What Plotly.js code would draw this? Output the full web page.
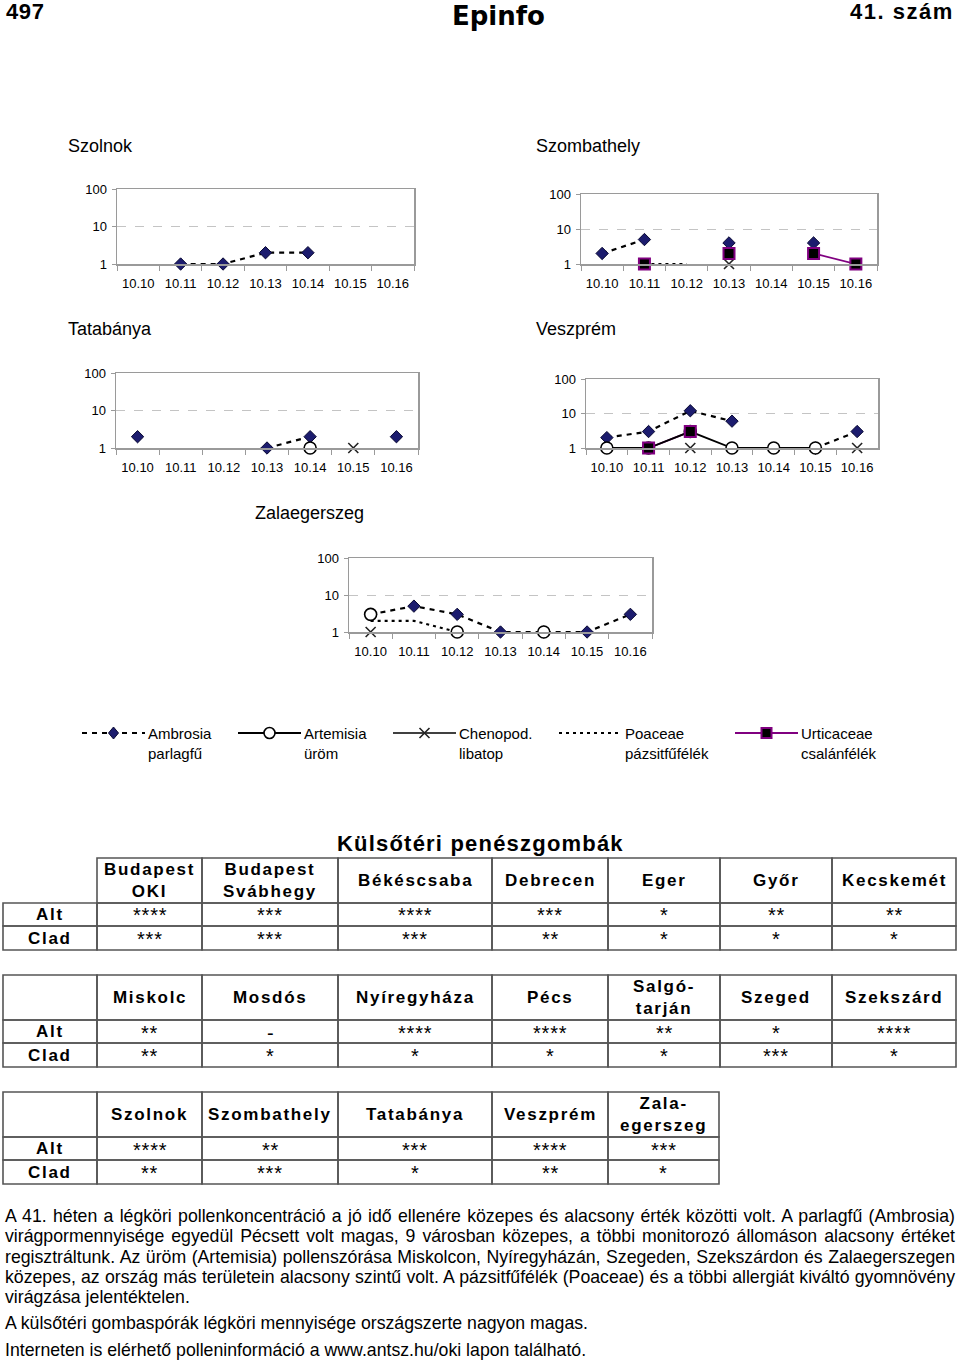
<!DOCTYPE html>
<html>
<head>
<meta charset="utf-8">
<script src="https://cdn.plot.ly/plotly-3.0.1.min.js"></script>
<style>
html,body{margin:0;padding:0;background:#fff;}
#wrap{position:relative;width:960px;height:1361px;overflow:hidden;}
#chart{position:absolute;left:0;top:0;width:960px;height:1361px;}
#text{position:absolute;left:5px;top:1206px;width:950px;font-family:"Liberation Sans",Arial,sans-serif;font-size:17.7px;line-height:20.3px;color:#000;}
#text p{margin:0 0 6px 0;text-align:justify;}
</style>
</head>
<body>
<div id="wrap">
<div id="chart"></div>
<div id="text">
<p>A 41. héten a légköri pollenkoncentráció a jó idő ellenére közepes és alacsony érték közötti volt. A parlagfű (Ambrosia) virágpormennyisége egyedül Pécsett volt magas, 9 városban közepes, a többi monitorozó állomáson alacsony értéket regisztráltunk. Az üröm (Artemisia) pollenszórása Miskolcon, Nyíregyházán, Szegeden, Szekszárdon és Zalaegerszegen közepes, az ország más területein alacsony szintű volt. A pázsitfűfélék (Poaceae) és a többi allergiát kiváltó gyomnövény virágzása jelentéktelen.</p>
<p>A külsőtéri gombaspórák légköri mennyisége országszerte nagyon magas.</p>
<p>Interneten is elérhető polleninformáció a www.antsz.hu/oki lapon található.</p>
</div>
</div>
<script>
// ---------- DATA ----------
const dates = ['10.10','10.11','10.12','10.13','10.14','10.15','10.16'];
const cityNames = ['Szolnok','Szombathely','Tatabánya','Veszprém','Zalaegerszeg'];
const seriesNames = ['Ambrosia','Artemisia','Chenopod.','Poaceae','Urticaceae'];
const seriesLocalNames = ['parlagfű','üröm','libatop','pázsitfűfélék','csalánfélék'];
const yTickVals = [1,10,100];
const yTickText = ['1','10','100'];

const szolnokAmbrosia = [null,1,1,2,2,null,null];

const szombathelyAmbrosia = [2,5,null,4,null,4,null];
const szombathelyChenopod = [null,null,null,1,null,null,null];
const szombathelyPoaceae = [null,1,1,null,null,null,null];
const szombathelyUrticaceae = [null,1,null,2,null,2,1];

const tatabanyaAmbrosia = [2,null,null,1,2,null,2];
const tatabanyaArtemisia = [null,null,null,null,1,null,null];
const tatabanyaChenopod = [null,null,null,null,null,1,null];

const veszpremAmbrosia = [2,3,12,6,null,1,3];
const veszpremArtemisia = [1,1,3,1,1,1,null];
const veszpremChenopod = [null,null,1,null,null,null,1];
const veszpremUrticaceae = [null,1,3,null,null,null,null];

const zalaAmbrosia = [3,5,3,1,1,1,3];
const zalaArtemisia = [3,null,1,null,1,null,null];
const zalaChenopod = [1,null,null,null,null,null,null];
const zalaPoaceae = [2,2,1,null,null,null,null];

const tableTitle = 'Külsőtéri penészgombák';
const rowLabels = ['Alt','Clad'];
const t1Cities = ['Budapest<br>OKI','Budapest<br>Svábhegy','Békéscsaba','Debrecen','Eger','Győr','Kecskemét'];
const t1Alt = ['****','***','****','***','*','**','**'];
const t1Clad = ['***','***','***','**','*','*','*'];
const t2Cities = ['Miskolc','Mosdós','Nyíregyháza','Pécs','Salgó-<br>tarján','Szeged','Szekszárd'];
const t2Alt = ['**','-','****','****','**','*','****'];
const t2Clad = ['**','*','*','*','*','***','*'];
const t3Cities = ['Szolnok','Szombathely','Tatabánya','Veszprém','Zala-<br>egerszeg'];
const t3Alt = ['****','**','***','****','***'];
const t3Clad = ['**','***','*','**','*'];

// per city: [Ambrosia, Artemisia, Chenopod, Poaceae, Urticaceae]
const cityValues = [
  [szolnokAmbrosia, null, null, null, null],
  [szombathelyAmbrosia, null, szombathelyChenopod, szombathelyPoaceae, szombathelyUrticaceae],
  [tatabanyaAmbrosia, tatabanyaArtemisia, tatabanyaChenopod, null, null],
  [veszpremAmbrosia, veszpremArtemisia, veszpremChenopod, null, veszpremUrticaceae],
  [zalaAmbrosia, zalaArtemisia, zalaChenopod, zalaPoaceae, null]
];

// ---------- LAYOUT / STYLE ----------
const W = 960, H = 1361;
const px = x => x / W;
const py = y => 1 - y / H;
const FONT = 'Liberation Sans, Arial, sans-serif';

const panelBoxes = [[117,414,189,264],[581,877,194,264],[116,418,373,448],[586,878,379,448],[349,652,558,632]];
const titlePos = [[66,146],[534,146],[66,329],[534,329],[253,513]];

const seriesLine = [
  {color:'#000',width:2.2,dash:'5px,5px'},
  {color:'#000',width:1.8},
  {color:'#000',width:1.6},
  {color:'#000',width:2.2,dash:'3px,4px'},
  {color:'#800080',width:1.8}
];
const seriesMarker = [
  {symbol:'diamond',size:9.5,color:'#1c1c6e',line:{color:'#0a0a33',width:1}},
  {symbol:'circle',size:12,color:'#fff',line:{color:'#000',width:1.6}},
  {symbol:'x-thin',size:10,color:'#222',line:{color:'#222',width:1.6}},
  null,
  {symbol:'square',size:11,color:'#000',line:{color:'#800080',width:2}}
];
const lineOrder = [4,3,0,2,1];
const markerOrder = [0,2,1,4];

const traces = [];
const layout = {
  width: W, height: H,
  margin: {l:0,r:0,t:0,b:0},
  paper_bgcolor: '#fff', plot_bgcolor: '#fff',
  font: {family: FONT, color: '#000'},
  showlegend: false,
  annotations: [],
  shapes: []
};

cityValues.forEach((vals, i) => {
  const sfx = i === 0 ? '' : String(i + 1);
  const b = panelBoxes[i];
  const base = {type:'scatter', x:dates, xaxis:'x'+sfx, yaxis:'y'+sfx, showlegend:false,
    cliponaxis:false, connectgaps:false, hoverinfo:'skip'};
  lineOrder.forEach(s => {
    if (!vals[s]) return;
    traces.push(Object.assign({}, base, {y: vals[s], name: seriesNames[s], mode:'lines',
      line: Object.assign({}, seriesLine[s])}));
  });
  markerOrder.forEach(s => {
    if (!vals[s] || !seriesMarker[s]) return;
    traces.push(Object.assign({}, base, {y: vals[s], name: seriesNames[s], mode:'markers',
      marker: JSON.parse(JSON.stringify(seriesMarker[s]))}));
  });
  layout['xaxis' + sfx] = {
    domain: [px(b[0]), px(b[1])], anchor: 'y' + sfx,
    type: 'category', categoryorder: 'array', categoryarray: dates,
    range: [-0.5, 6.5], showline: true, mirror: true,
    linecolor: '#9a9a9a', linewidth: 1.5,
    ticks: 'outside', tickson: 'boundaries', ticklen: 5, tickcolor: '#9a9a9a', tickwidth: 1,
    ticklabelstandoff: 7,
    tickfont: {family: FONT, size: 13, color: '#000'},
    showgrid: false, zeroline: false, fixedrange: true
  };
  layout['yaxis' + sfx] = {
    domain: [py(b[3]), py(b[2])], anchor: 'x' + sfx,
    type: 'log', range: [0, 2],
    tickmode: 'array', tickvals: yTickVals, ticktext: yTickText,
    showline: true, mirror: true, linecolor: '#9a9a9a', linewidth: 1.5,
    ticks: 'outside', ticklen: 4, tickcolor: '#9a9a9a',
    ticklabelstandoff: 2,
    tickfont: {family: FONT, size: 13, color: '#000'},
    showgrid: true, gridcolor: '#c4c4c4', griddash: 'dash', gridwidth: 1,
    zeroline: false, fixedrange: true
  };
  layout.annotations.push({
    xref:'paper', yref:'paper', x: px(titlePos[i][0]), y: py(titlePos[i][1]),
    xanchor:'left', yanchor:'middle', showarrow:false,
    text: cityNames[i], font:{family:FONT, size:18, color:'#000'}
  });
});

// ---------- Legend (drawn) ----------
const legendStarts = [82, 238, 393, 559, 735];
const legendLen = 63, legendY = 733;
const markerShape = [
  {type:'path', path:'M0,6L5,0L0,-6L-5,0Z', fillcolor:'#1c1c6e', line:{color:'#0a0a33',width:1}},
  {type:'circle', x0:-5.5, x1:5.5, y0:-5.5, y1:5.5, fillcolor:'#fff', line:{color:'#000',width:1.6}},
  {type:'path', path:'M-5,-5L5,5M-5,5L5,-5', line:{color:'#222',width:1.6}},
  null,
  {type:'rect', x0:-5, x1:5, y0:-5, y1:5, fillcolor:'#000', line:{color:'#800080',width:2}}
];
seriesNames.forEach((n, s) => {
  const x0 = legendStarts[s];
  const st = seriesLine[s];
  layout.shapes.push({type:'line', xref:'paper', yref:'paper',
    x0: px(x0), x1: px(x0 + legendLen), y0: py(legendY), y1: py(legendY),
    line: {color: st.color, width: st.width, dash: st.dash || 'solid'}});
  if (markerShape[s]) {
    layout.shapes.push(Object.assign({xref:'paper', yref:'paper', xsizemode:'pixel', ysizemode:'pixel',
      xanchor: px(x0 + legendLen / 2), yanchor: py(legendY)}, markerShape[s]));
  }
  layout.annotations.push({xref:'paper', yref:'paper', x: px(x0 + legendLen + 1), y: py(legendY + 10),
    xanchor:'left', yanchor:'middle', align:'left', showarrow:false,
    text: n + '<br>' + seriesLocalNames[s], font:{family:FONT, size:15, color:'#000'}});
});

// ---------- Header ----------
function spaced(t, ls) {
  return t.split('<br>').map(l => '<span style="letter-spacing:' + ls + 'px">' + l + '</span>').join('<br>');
}
layout.annotations.push({xref:'paper', yref:'paper', x:px(4), y:py(11), xanchor:'left', yanchor:'middle', showarrow:false,
  text: spaced('497', 0.6), font:{family:FONT, size:22, weight:'bold', color:'#000'}});
layout.annotations.push({xref:'paper', yref:'paper', x:px(498), y:py(16), xanchor:'center', yanchor:'middle', showarrow:false,
  text: 'Epinfo', font:{family:'DejaVu Sans, sans-serif', size:26, weight:'bold', color:'#000'}});
layout.annotations.push({xref:'paper', yref:'paper', x:px(956), y:py(11), xanchor:'right', yanchor:'middle', showarrow:false,
  text: spaced('41. szám', 1.5), font:{family:FONT, size:22, weight:'bold', color:'#000'}});

// ---------- Tables ----------
const colEdges = [3,97,202,338,492,608,720,832,956];
const colEdges3 = [3,97,202,338,492,608,719];
const tables = [
  {cities:t1Cities, alt:t1Alt, clad:t1Clad, edges:colEdges, rows:[858,903,926,950], corner:false},
  {cities:t2Cities, alt:t2Alt, clad:t2Clad, edges:colEdges, rows:[975,1020,1043,1067], corner:true},
  {cities:t3Cities, alt:t3Alt, clad:t3Clad, edges:colEdges3, rows:[1092,1137,1160,1184], corner:true}
];
const borderLine = {color:'#555', width:1.6};
function cellRect(x0, x1, y0, y1) {
  layout.shapes.push({type:'rect', xref:'paper', yref:'paper', x0:px(x0), x1:px(x1), y0:py(y1), y1:py(y0),
    line: borderLine, fillcolor:'rgba(0,0,0,0)'});
}
function cellText(t, x0, x1, y0, y1, font, dy) {
  layout.annotations.push({xref:'paper', yref:'paper', x:px((x0 + x1) / 2), y:py((y0 + y1) / 2 + (dy || 0)),
    xanchor:'center', yanchor:'middle', showarrow:false, text:t, font:font});
}
const headFont = {family:FONT, size:17, weight:'bold', color:'#000'};
const starFont = {family:FONT, size:20, color:'#000'};

layout.annotations.push({xref:'paper', yref:'paper', x:px(480), y:py(843), xanchor:'center', yanchor:'middle', showarrow:false,
  text: spaced(tableTitle, 1.2), font:{family:FONT, size:22, weight:'bold', color:'#000'}});

tables.forEach(tb => {
  const e = tb.edges, r = tb.rows;
  if (tb.corner) cellRect(e[0], e[1], r[0], r[1]);
  tb.cities.forEach((c, j) => {
    cellRect(e[j + 1], e[j + 2], r[0], r[1]);
    cellText(spaced(c, 1.7), e[j + 1], e[j + 2], r[0], r[1], headFont, 0);
  });
  [tb.alt, tb.clad].forEach((vals, k) => {
    const y0 = r[k + 1], y1 = r[k + 2];
    cellRect(e[0], e[1], y0, y1);
    cellText(spaced(rowLabels[k], 1.7), e[0], e[1], y0, y1, headFont, 0);
    vals.forEach((v, j) => {
      cellRect(e[j + 1], e[j + 2], y0, y1);
      cellText(spaced(v, 0.8), e[j + 1], e[j + 2], y0, y1, starFont, 1);
    });
  });
});

Plotly.newPlot('chart', traces, layout, {staticPlot:true, displayModeBar:false});
</script>
</body>
</html>
